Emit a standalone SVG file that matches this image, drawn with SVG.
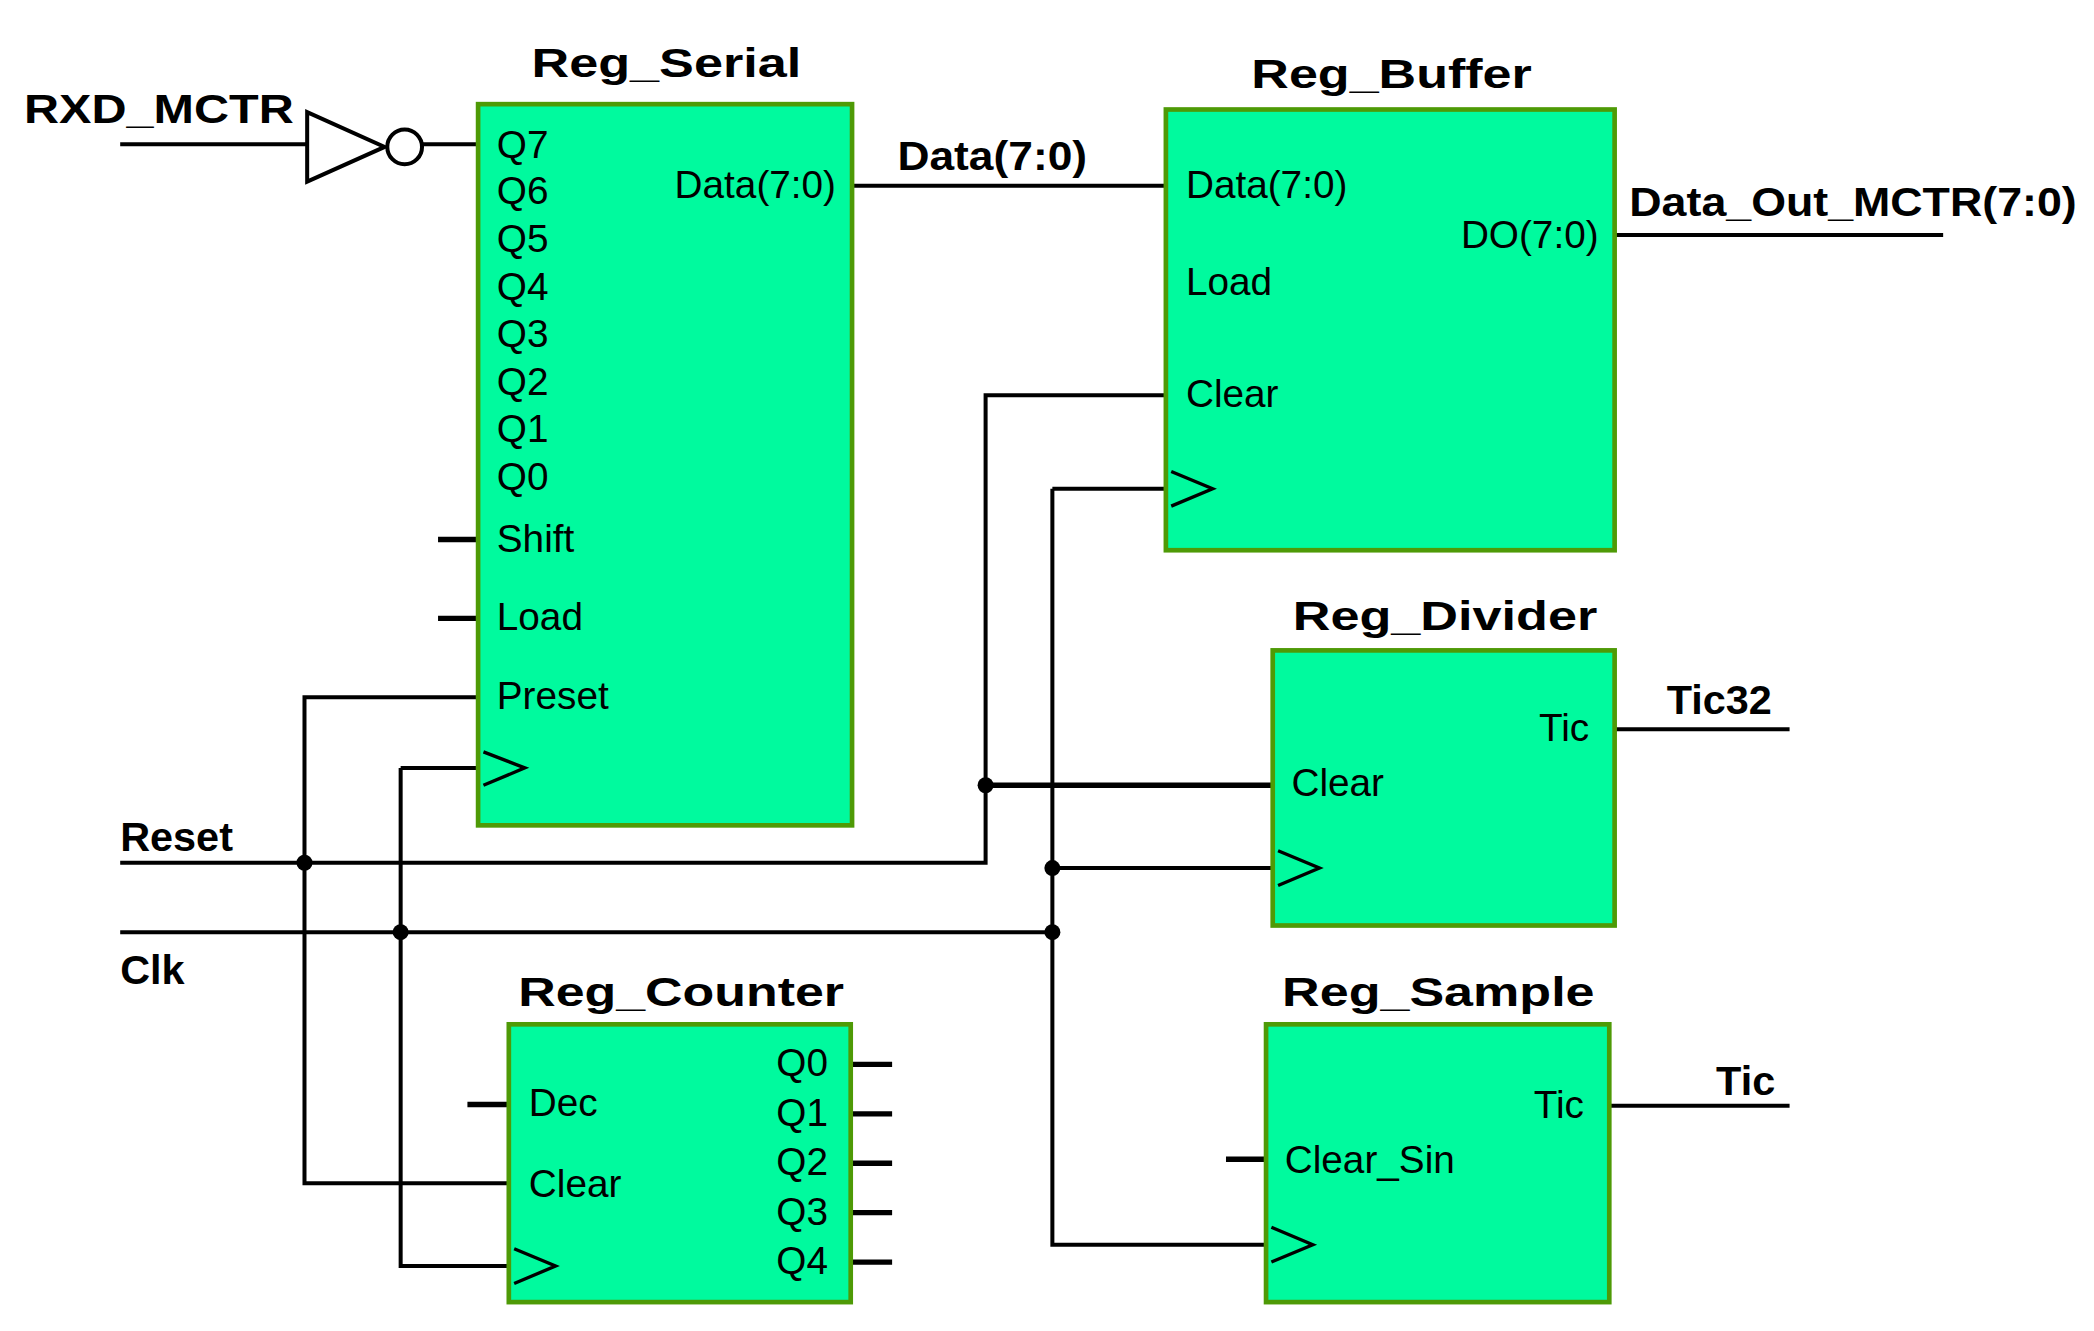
<svg xmlns="http://www.w3.org/2000/svg" width="2094" height="1331" viewBox="0 0 2094 1331">
<style>
.box{fill:#00FA9E;stroke:#4E9A06;stroke-width:3.5}
.w{fill:none;stroke:#000;stroke-width:3}
.tk{fill:none;stroke:#000;stroke-width:4}
.t{font-family:"Liberation Sans",Arial,sans-serif;font-size:29px;fill:#000}
.b{font-family:"Liberation Sans",Arial,sans-serif;font-size:31px;font-weight:bold;fill:#000}
.ck{fill:none;stroke:#000;stroke-width:2.5}
.r{text-anchor:end}
</style>
<rect width="2094" height="1331" fill="#fff"/>
<g transform="scale(1.3355)">
<g id="connectors">
<path class="w" d="M90 108H230M316 108H358M638 139H873M1209 176H1455M1209 546H1340M1205 828H1340"/>
<path class="w" d="M358 522H228V886H381M300 575H358M300 575V948H381M90 646H738V296H873M90 698H788M788 366H873M788 366V932H948M788 650H953"/>
<path class="tk" d="M738 588H953M328 404H358M328 463H358M350 827H381M918 868H948M637 797H668M637 834H668M637 871H668M637 908H668M637 945H668"/>
<circle cx="228" cy="646" r="6"/><circle cx="300" cy="698" r="6"/><circle cx="738" cy="588" r="6"/><circle cx="788" cy="650" r="6"/><circle cx="788" cy="698" r="6"/>
</g>
<g id="inverter">
<path d="M230 84L230 136L288 110Z" fill="#fff" stroke="#000" stroke-width="3"/>
<circle cx="303" cy="110" r="13" fill="#fff" stroke="#000" stroke-width="3"/>
<text class="b" x="18" y="92" textLength="202" lengthAdjust="spacingAndGlyphs">RXD_MCTR</text>
</g>
<g id="reg_serial">
<rect class="box" x="358" y="78" width="280" height="540"/>
<text class="b" x="398" y="58" textLength="202" lengthAdjust="spacingAndGlyphs">Reg_Serial</text>
<text class="t" x="372" y="118">Q7</text><text class="t" x="372" y="153">Q6</text><text class="t" x="372" y="189">Q5</text><text class="t" x="372" y="225">Q4</text><text class="t" x="372" y="260">Q3</text><text class="t" x="372" y="296">Q2</text><text class="t" x="372" y="331">Q1</text><text class="t" x="372" y="367">Q0</text>
<text class="t" x="372" y="413">Shift</text><text class="t" x="372" y="472">Load</text><text class="t" x="372" y="531">Preset</text>
<text class="t r" x="626" y="148">Data(7:0)</text>
<path class="ck" d="M362 563L393 575L362 588"/>
</g>
<g id="reg_buffer">
<rect class="box" x="873" y="82" width="336" height="330"/>
<text class="b" x="937" y="66" textLength="210" lengthAdjust="spacingAndGlyphs">Reg_Buffer</text>
<text class="t" x="888" y="148">Data(7:0)</text><text class="t" x="888" y="221">Load</text><text class="t" x="888" y="305">Clear</text>
<text class="t r" x="1197" y="186">DO(7:0)</text>
<path class="ck" d="M877 353L908 366L877 379"/>
</g>
<text class="b" x="672" y="127" textLength="142" lengthAdjust="spacingAndGlyphs">Data(7:0)</text>
<text class="b" x="1220" y="162" textLength="335" lengthAdjust="spacingAndGlyphs">Data_Out_MCTR(7:0)</text>
<text class="b" x="90" y="637">Reset</text>
<text class="b" x="90" y="737">Clk</text>
<g id="reg_divider">
<rect class="box" x="953" y="487" width="256" height="206"/>
<text class="b" x="968" y="472" textLength="228" lengthAdjust="spacingAndGlyphs">Reg_Divider</text>
<text class="t r" x="1190" y="555">Tic</text><text class="t" x="967" y="596">Clear</text>
<path class="ck" d="M957 637L988 650L957 663"/>
<text class="b" x="1248" y="535">Tic32</text>
</g>
<g id="reg_sample">
<rect class="box" x="948" y="767" width="257" height="208"/>
<text class="b" x="960" y="753" textLength="234" lengthAdjust="spacingAndGlyphs">Reg_Sample</text>
<text class="t r" x="1186" y="837">Tic</text><text class="t" x="962" y="878">Clear_Sin</text>
<path class="ck" d="M952 919L983 932L952 945"/>
<text class="b" x="1285" y="820">Tic</text>
</g>
<g id="reg_counter">
<rect class="box" x="381" y="767" width="256" height="208"/>
<text class="b" x="388" y="753" textLength="244" lengthAdjust="spacingAndGlyphs">Reg_Counter</text>
<text class="t" x="396" y="836">Dec</text><text class="t" x="396" y="896">Clear</text>
<text class="t r" x="620" y="806">Q0</text><text class="t r" x="620" y="843">Q1</text><text class="t r" x="620" y="880">Q2</text><text class="t r" x="620" y="917">Q3</text><text class="t r" x="620" y="954">Q4</text>
<path class="ck" d="M385 935L416 948L385 961"/>
</g>
</g>
</svg>
